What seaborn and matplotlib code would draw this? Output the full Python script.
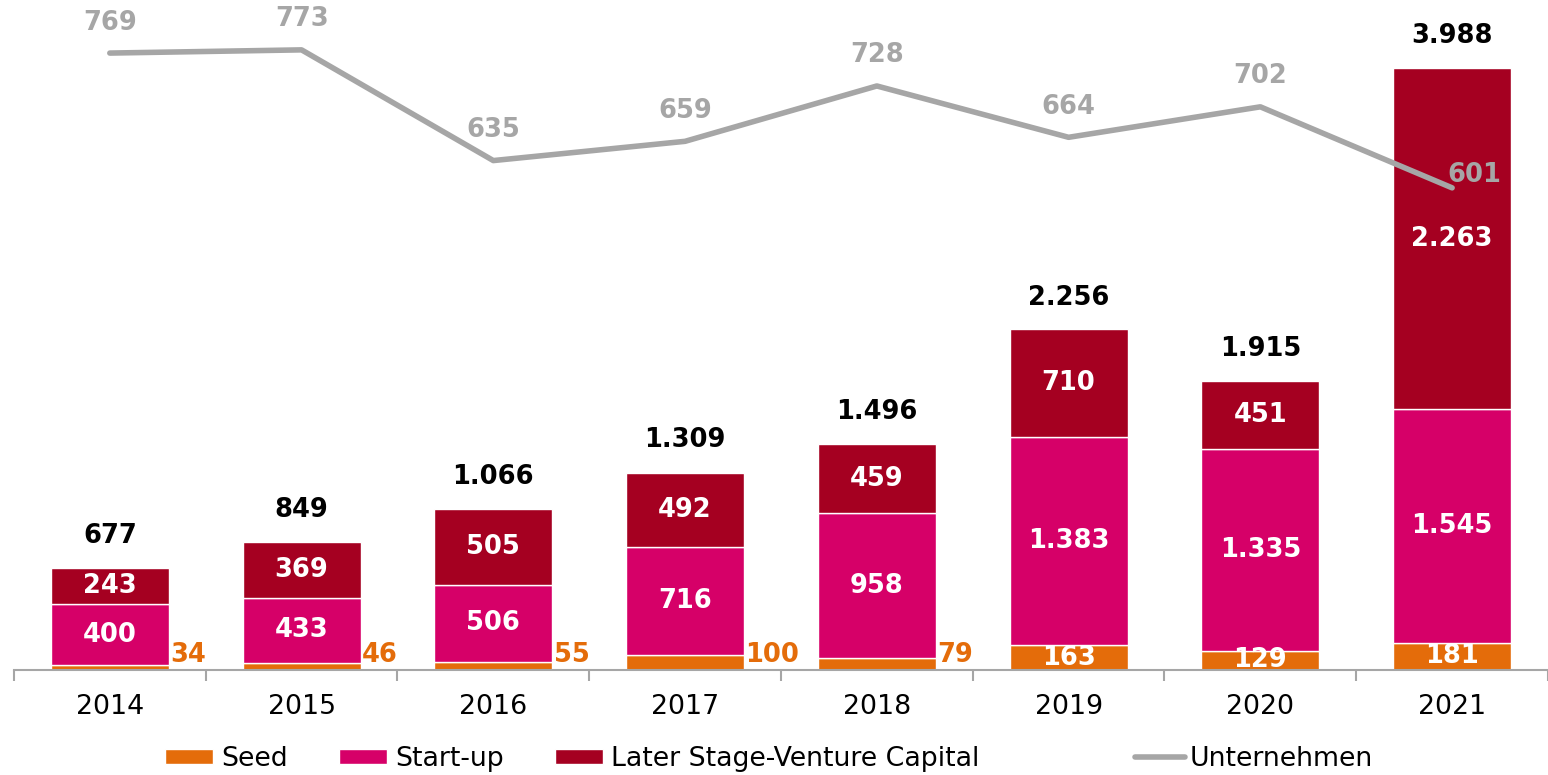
import numpy as np
import pandas as pd
import matplotlib.pyplot as plt
from matplotlib.patches import Patch
from matplotlib.lines import Line2D
import seaborn as sns

# ── Data ─────────────────────────────────────────
years = ["2014", "2015", "2016", "2017", "2018", "2019", "2020", "2021"]
seed = [34, 46, 55, 100, 79, 163, 129, 181]
startup = [400, 433, 506, 716, 958, 1383, 1335, 1545]
later = [243, 369, 505, 492, 459, 710, 451, 2263]
totals = [677, 849, 1066, 1309, 1496, 2256, 1915, 3988]
companies = [769, 773, 635, 659, 728, 664, 702, 601]

SEED_COLOR = "#E46C0A"
START_COLOR = "#D60068"
LATER_COLOR = "#A50021"
GRAY = "#A6A6A6"
FS = 19.3    # regular text
FSB = 18.5   # bold value labels


def fmt(v):
    return f"{v:,}".replace(",", ".")


sns.set_theme(style="white")
plt.rcParams["font.family"] = ["DejaVu Sans"]

df = pd.DataFrame({"year": years, "seed": seed, "startup": startup, "later": later})
df["base_later"] = df["seed"] + df["startup"]

fig = plt.figure(figsize=(15.48, 7.75), dpi=100)
ax = fig.add_axes([0.009, 0.1355, 0.991, 0.8515])

bw = 0.615
common = dict(x="year", width=bw, edgecolor="white", linewidth=1,
              saturation=1, errorbar=None, ax=ax)

sns.barplot(data=df, y="seed", color=SEED_COLOR, **common)
sns.barplot(data=df, y="startup", color=START_COLOR,
            bottom=df["seed"].to_numpy(), **common)
sns.barplot(data=df, y="later", color=LATER_COLOR,
            bottom=df["base_later"].to_numpy(), **common)

ax.set_ylim(0, 4372)
ax.set_xlim(-0.5, len(years) - 0.5)

# ── Bar labels ───────────────────────────────────
for i in range(len(years)):
    # seed: outside for small values, inside for larger ones
    if seed[i] < 120:
        ax.annotate(fmt(seed[i]), xy=(i + bw / 2, 0), xytext=(1, 11),
                    textcoords="offset points", ha="left", va="center",
                    fontsize=FSB, fontweight="bold", color=SEED_COLOR)
    else:
        ax.text(i, seed[i] / 2, fmt(seed[i]), ha="center", va="center",
                fontsize=FSB, fontweight="bold", color="white")

    ax.text(i, seed[i] + startup[i] / 2, fmt(startup[i]), ha="center",
            va="center", fontsize=FSB, fontweight="bold", color="white")
    ax.text(i, seed[i] + startup[i] + later[i] / 2, fmt(later[i]),
            ha="center", va="center", fontsize=FSB, fontweight="bold",
            color="white")

    ax.annotate(fmt(totals[i]), xy=(i, totals[i]), xytext=(0, 23),
                textcoords="offset points", ha="center", va="center",
                fontsize=FSB, fontweight="bold", color="black")

# ── Axis styling ─────────────────────────────────
for side in ["top", "right", "left"]:
    ax.spines[side].set_visible(False)
ax.spines["bottom"].set_color(GRAY)
ax.spines["bottom"].set_linewidth(1.5)
ax.set_yticks([])
ax.set_xlabel("")
ax.set_ylabel("")
ax.set_xticks(np.arange(-0.5, len(years)), minor=True)
ax.tick_params(axis="x", which="major", length=0, pad=17, labelsize=FS,
               labelcolor="black")
ax.tick_params(axis="x", which="minor", bottom=True, length=8, width=1.5,
               color=GRAY, direction="out")

# ── Line: Unternehmen ────────────────────────────
ax2 = ax.twinx()
sns.lineplot(x=np.arange(len(years)), y=companies, ax=ax2, color=GRAY,
             linewidth=4, solid_capstyle="round")
ax2.set_ylim(0, 822.6)
ax2.set_xlim(-0.5, len(years) - 0.5)
ax2.set_yticks([])
ax2.set_ylabel("")
for side in ax2.spines:
    ax2.spines[side].set_visible(False)

for i, v in enumerate(companies):
    if i == len(companies) - 1:
        off = (16, 9)
    else:
        off = (0, 22)
    ax2.annotate(fmt(v), xy=(i, v), xytext=off, textcoords="offset points",
                 ha="center", va="center", fontsize=FSB, fontweight="bold",
                 color=GRAY)

# ── Legend ───────────────────────────────────────
bar_handles = [
    Patch(facecolor=SEED_COLOR, label="Seed"),
    Patch(facecolor=START_COLOR, label="Start-up"),
    Patch(facecolor=LATER_COLOR, label="Later Stage-Venture Capital"),
]
fig.legend(handles=bar_handles, loc="center left",
           bbox_to_anchor=(165 / 1548, 1 - 759 / 775), ncol=3, frameon=False,
           fontsize=FS, labelcolor="black", handlelength=1.8,
           handleheight=0.52, handletextpad=0.3, columnspacing=1.9,
           borderpad=0, borderaxespad=0)

line_handle = [Line2D([0], [0], color=GRAY, linewidth=4,
                      solid_capstyle="round", label="Unternehmen")]
fig.legend(handles=line_handle, loc="center left",
           bbox_to_anchor=(1135 / 1548, 1 - 759 / 775), frameon=False,
           fontsize=FS, labelcolor="black", handlelength=1.85,
           handletextpad=0.2, borderpad=0, borderaxespad=0)

fig.savefig("out.png", dpi=100)
